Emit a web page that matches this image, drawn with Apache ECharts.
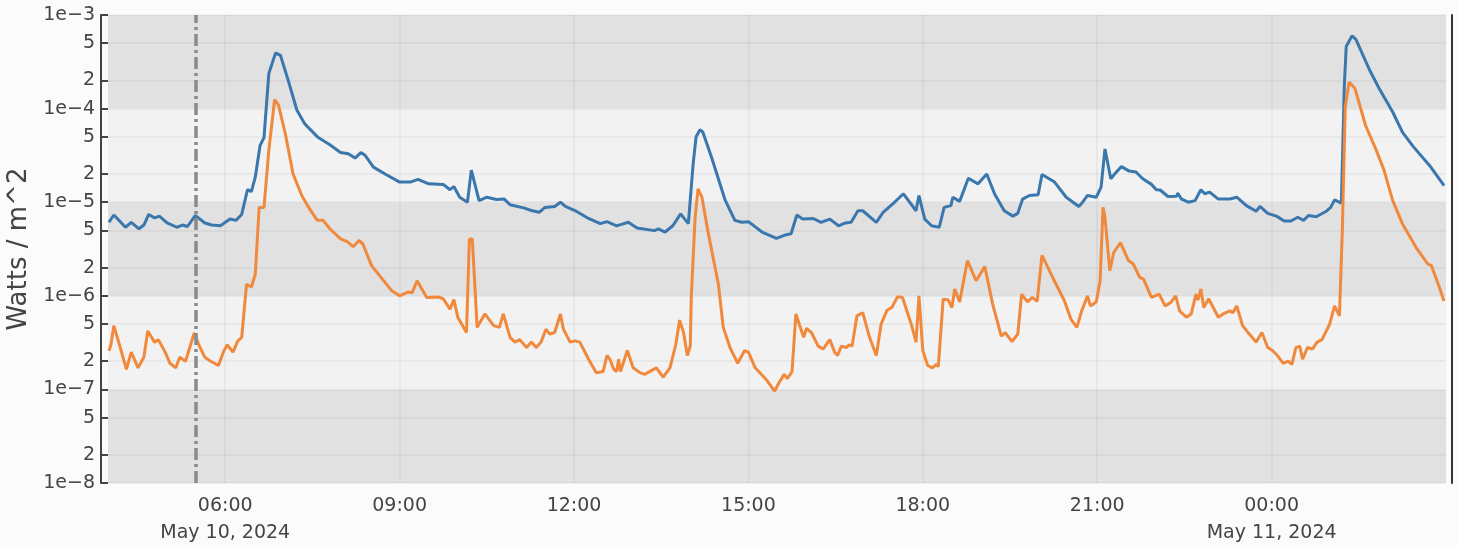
<!DOCTYPE html>
<html>
<head>
<meta charset="utf-8">
<script src="https://cdn.jsdelivr.net/npm/echarts@6/dist/echarts.min.js"></script>
<style>
  html, body { margin: 0; padding: 0; background: #fbfbfb; }
  #chart { width: 1457px; height: 547px; }
</style>
</head>
<body>
<div id="chart"></div>
<script>
// ---- data (times are HH:MM; hours before 04:00 belong to May 11, 2024) ----
const longTimes = ['04:00','04:05','04:10','04:17','04:23','04:31','04:36','04:41','04:47','04:52','05:00','05:10','05:16','05:21','05:29','05:39','05:46','05:55','06:05','06:11','06:17','06:23','06:27','06:31','06:36','06:40','06:45','06:52','06:57','07:05','07:14','07:22','07:36','07:48','07:59','08:07','08:14','08:20','08:24','08:33','08:45','09:00','09:11','09:19','09:30','09:45','09:52','09:56','10:02','10:10','10:14','10:22','10:30','10:40','10:48','10:54','11:08','11:16','11:24','11:30','11:40','11:46','11:51','12:01','12:15','12:27','12:34','12:44','12:49','12:56','13:05','13:23','13:27','13:34','13:42','13:50','13:58','14:03','14:06','14:10','14:13','14:22','14:36','14:46','14:53','15:00','15:14','15:29','15:39','15:44','15:50','15:56','16:07','16:15','16:24','16:33','16:40','16:46','16:53','16:58','17:12','17:19','17:29','17:40','17:53','17:56','18:02','18:09','18:17','18:22','18:29','18:31','18:38','18:47','18:57','19:06','19:14','19:24','19:33','19:38','19:43','19:50','19:59','20:03','20:16','20:28','20:41','20:45','20:50','20:59','21:04','21:08','21:14','21:18','21:25','21:33','21:40','21:47','21:56','22:01','22:05','22:13','22:22','22:23','22:27','22:34','22:41','22:47','22:51','22:56','23:05','23:17','23:24','23:34','23:44','23:48','23:56','00:05','00:13','00:20','00:27','00:33','00:38','00:46','00:56','01:01','01:05','01:12','01:15','01:17','01:23','01:27','01:41','01:51','02:05','02:15','02:26','02:43','02:58'];
const longFlux = [6.1e-6,7.3e-6,6.45e-6,5.4e-6,6.1e-6,5.2e-6,5.7e-6,7.4e-6,6.8e-6,7.1e-6,6.0e-6,5.4e-6,5.7e-6,5.5e-6,7.2e-6,6.0e-6,5.7e-6,5.6e-6,6.6e-6,6.4e-6,7.4e-6,1.36e-5,1.3e-5,1.85e-5,4.05e-5,4.9e-5,2.37e-4,3.94e-4,3.7e-4,2.0e-4,9.6e-5,6.9e-5,4.9e-5,4.1e-5,3.4e-5,3.3e-5,2.96e-5,3.4e-5,3.2e-5,2.37e-5,2.0e-5,1.64e-5,1.64e-5,1.75e-5,1.57e-5,1.55e-5,1.36e-5,1.47e-5,1.13e-5,1.0e-5,2.2e-5,1.04e-5,1.13e-5,1.07e-5,1.08e-5,9.4e-6,8.7e-6,8.15e-6,7.8e-6,8.8e-6,9.0e-6,1.0e-5,9.0e-6,8.15e-6,6.7e-6,5.9e-6,6.2e-6,5.6e-6,5.8e-6,6.1e-6,5.3e-6,4.97e-6,5.2e-6,4.8e-6,5.6e-6,7.5e-6,5.9e-6,2.6e-5,5.0e-5,5.95e-5,5.6e-5,3.0e-5,1.05e-5,6.4e-6,6.1e-6,6.2e-6,4.8e-6,4.1e-6,4.5e-6,4.6e-6,7.3e-6,6.6e-6,6.7e-6,6.1e-6,6.6e-6,5.6e-6,6.0e-6,6.1e-6,8.1e-6,8.1e-6,6.1e-6,7.8e-6,9.6e-6,1.23e-5,8.1e-6,1.18e-5,6.6e-6,5.6e-6,5.4e-6,8.8e-6,9.2e-6,1.13e-5,1.02e-5,1.8e-5,1.57e-5,2.0e-5,1.23e-5,8.1e-6,7.1e-6,7.6e-6,1.08e-5,1.18e-5,1.2e-5,1.98e-5,1.64e-5,1.13e-5,9.0e-6,1.0e-5,1.18e-5,1.13e-5,1.45e-5,3.7e-5,1.78e-5,2.0e-5,2.4e-5,2.15e-5,2.1e-5,1.78e-5,1.55e-5,1.36e-5,1.35e-5,1.15e-5,1.16e-5,1.25e-5,1.08e-5,1.0e-5,1.04e-5,1.36e-5,1.23e-5,1.28e-5,1.08e-5,1.08e-5,1.13e-5,9.2e-6,8.0e-6,9.0e-6,7.6e-6,7.1e-6,6.3e-6,6.3e-6,6.9e-6,6.4e-6,7.2e-6,7.0e-6,7.95e-6,8.8e-6,1.06e-5,9.8e-6,1.7e-4,4.6e-4,6.0e-4,5.5e-4,2.6e-4,1.64e-4,9.2e-5,5.6e-5,3.95e-5,2.47e-5,1.5e-5];

const shortTimes = ['04:00','04:02','04:05','04:10','04:13','04:18','04:23','04:30','04:36','04:40','04:47','04:51','04:58','05:03','05:09','05:13','05:19','05:28','05:33','05:39','05:45','05:53','05:58','06:02','06:08','06:13','06:17','06:22','06:27','06:31','06:35','06:40','06:45','06:51','06:55','07:02','07:10','07:19','07:26','07:35','07:41','07:48','07:59','08:06','08:12','08:18','08:22','08:31','08:43','08:52','09:00','09:09','09:13','09:18','09:28','09:40','09:45','09:52','09:56','10:00','10:09','10:12','10:15','10:20','10:28','10:37','10:43','10:47','10:54','10:59','11:04','11:11','11:16','11:21','11:26','11:31','11:35','11:40','11:46','11:49','11:56','12:01','12:06','12:15','12:23','12:30','12:34','12:37','12:41','12:44','12:46','12:48','12:55','13:01','13:08','13:13','13:18','13:25','13:32','13:39','13:45','13:49','13:53','13:57','14:00','14:01','14:05','14:08','14:12','14:18','14:29','14:34','14:41','14:49','14:56','15:00','15:07','15:19','15:27','15:32','15:37','15:40','15:45','15:49','15:57','16:00','16:05','16:12','16:17','16:24','16:29','16:32','16:36','16:41','16:44','16:47','16:52','16:58','17:05','17:12','17:17','17:23','17:28','17:34','17:39','17:48','17:53','17:56','18:00','18:05','18:10','18:14','18:16','18:21','18:26','18:30','18:33','18:38','18:46','18:55','19:04','19:12','19:21','19:25','19:32','19:38','19:42','19:48','19:53','19:58','20:03','20:14','20:26','20:33','20:39','20:44','20:50','20:53','20:59','21:03','21:06','21:08','21:13','21:17','21:19','21:24','21:32','21:37','21:44','21:48','21:56','21:59','22:04','22:10','22:16','22:21','22:25','22:32','22:37','22:42','22:44','22:47','22:50','22:55','23:05','23:10','23:17','23:20','23:24','23:30','23:37','23:44','23:50','23:56','00:01','00:06','00:12','00:17','00:21','00:25','00:29','00:32','00:37','00:42','00:47','00:52','01:00','01:05','01:10','01:13','01:16','01:20','01:26','01:37','01:48','01:56','02:05','02:15','02:29','02:41','02:45','02:52','02:58'];
const shortFlux = [2.58e-7,3.0e-7,4.8e-7,3.2e-7,2.5e-7,1.64e-7,2.5e-7,1.7e-7,2.2e-7,4.2e-7,3.2e-7,3.4e-7,2.5e-7,1.9e-7,1.7e-7,2.2e-7,2.0e-7,4.0e-7,2.95e-7,2.2e-7,2.0e-7,1.8e-7,2.5e-7,3.0e-7,2.5e-7,3.3e-7,3.6e-7,1.33e-6,1.24e-6,1.7e-6,8.8e-6,8.8e-6,3.6e-5,1.25e-4,1.09e-4,5.4e-5,2.0e-5,1.18e-5,8.8e-6,6.4e-6,6.4e-6,5.2e-6,4.05e-6,3.8e-6,3.35e-6,3.9e-6,3.6e-6,2.1e-6,1.47e-6,1.13e-6,1.0e-6,1.1e-6,1.08e-6,1.45e-6,9.6e-7,9.7e-7,9.3e-7,7.2e-7,9.1e-7,5.9e-7,4.05e-7,4.05e-6,4.05e-6,4.6e-7,6.4e-7,4.8e-7,4.6e-7,6.4e-7,3.6e-7,3.2e-7,3.4e-7,2.8e-7,3.2e-7,2.8e-7,3.2e-7,4.4e-7,3.9e-7,4.05e-7,6.4e-7,4.4e-7,3.2e-7,3.3e-7,3.2e-7,2.1e-7,1.51e-7,1.55e-7,2.3e-7,2.1e-7,1.64e-7,1.55e-7,2.1e-7,1.55e-7,2.6e-7,1.7e-7,1.51e-7,1.45e-7,1.55e-7,1.7e-7,1.35e-7,1.7e-7,3.0e-7,5.5e-7,4.05e-7,2.3e-7,2.9e-7,9.6e-7,6.9e-6,1.39e-5,1.13e-5,5.0e-6,1.33e-6,4.6e-7,2.8e-7,1.9e-7,2.6e-7,2.5e-7,1.7e-7,1.25e-7,9.6e-8,1.2e-7,1.45e-7,1.3e-7,1.55e-7,6.4e-7,3.6e-7,4.5e-7,4.05e-7,2.9e-7,2.7e-7,3.4e-7,2.5e-7,2.3e-7,2.9e-7,2.8e-7,3.0e-7,2.9e-7,6.1e-7,6.6e-7,3.6e-7,2.3e-7,5.0e-7,7.0e-7,7.5e-7,9.8e-7,9.6e-7,5.0e-7,3.2e-7,1.0e-6,2.6e-7,1.8e-7,1.7e-7,1.85e-7,1.75e-7,9.2e-7,9.1e-7,7.5e-7,1.18e-6,8.6e-7,2.37e-6,1.45e-6,2.05e-6,8.2e-7,3.7e-7,4.05e-7,3.25e-7,3.9e-7,1.04e-6,8.6e-7,9.6e-7,8.7e-7,2.7e-6,1.57e-6,8.9e-7,5.6e-7,4.6e-7,6.9e-7,1.0e-6,7.8e-7,8.6e-7,1.45e-6,8.8e-6,6.9e-6,1.86e-6,2.9e-6,2.8e-6,3.7e-6,2.4e-6,2.2e-6,1.57e-6,1.5e-6,9.6e-7,9.9e-7,1.04e-6,7.8e-7,8.5e-7,1.0e-6,6.9e-7,5.9e-7,6.4e-7,1.04e-6,9.0e-7,1.18e-6,7.5e-7,9.3e-7,5.9e-7,6.4e-7,6.9e-7,6.6e-7,7.8e-7,4.8e-7,3.9e-7,3.2e-7,4.05e-7,2.8e-7,2.6e-7,2.3e-7,1.9e-7,2.0e-7,1.85e-7,2.8e-7,2.9e-7,2.1e-7,2.8e-7,2.7e-7,3.2e-7,3.4e-7,5.0e-7,7.8e-7,6.1e-7,5.0e-6,1.04e-4,1.93e-4,1.64e-4,6.6e-5,3.6e-5,2.2e-5,1.04e-5,5.9e-6,3.3e-6,2.2e-6,2.1e-6,1.33e-6,8.8e-7];

const xTickTimes = ['06:00','09:00','12:00','15:00','18:00','21:00','00:00'];
const yTickValues = [1e-8,2e-8,5e-8,1e-7,2e-7,5e-7,1e-6,2e-6,5e-6,1e-5,2e-5,5e-5,1e-4,2e-4,5e-4,1e-3];
const yDecades = [1e-8,1e-7,1e-6,1e-5,1e-4,1e-3];
const markerTime = '05:30';
const xRange = [[2024, 5, 10, 3, 59], [2024, 5, 11, 3, 0]];  // year, month, day, hour, minute
const yAxisName = 'Watts / m^2';
const monthNames = ['Jan','Feb','Mar','Apr','May','Jun','Jul','Aug','Sep','Oct','Nov','Dec'];

function toTs(hhmm) {
  const p = hhmm.split(':').map(Number);
  const day = p[0] < 4 ? 11 : 10;
  return new Date(2024, 4, day, p[0], p[1]).getTime();
}
function partsTs(a) { return new Date(a[0], a[1] - 1, a[2], a[3], a[4]).getTime(); }
function pair(times, vals) { return times.map((t, i) => [toTs(t), vals[i]]); }

const xTicks = xTickTimes.map(toTs);
const firstTick = xTicks[0];
const pad = n => (n < 10 ? '0' : '') + n;

function xLabel(v) {
  const d = new Date(v);
  let s = pad(d.getHours()) + ':' + pad(d.getMinutes());
  if (Math.abs(v - firstTick) < 1000 || d.getHours() === 0) {
    s += '\n' + monthNames[d.getMonth()] + ' ' + d.getDate() + ', ' + d.getFullYear();
  }
  return s;
}
function yLabel(v) {
  let e = Math.floor(Math.log10(v) + 1e-9);
  let m = Math.round(v / Math.pow(10, e));
  if (m >= 10) { m = 1; e += 1; }
  if (m === 1) return '1e' + (e < 0 ? '\u2212' + (-e) : e);
  return String(m);
}

const FONT = 'DejaVu Sans';
const TEXT = '#444';
const GRID = 'rgba(0,0,0,0.055)';

const chart = echarts.init(document.getElementById('chart'), null, { renderer: 'canvas' });
chart.setOption({
  animation: false,
  backgroundColor: '#fbfbfb',
  textStyle: { fontFamily: FONT },
  grid: { left: 108, right: 11, top: 15, bottom: 64, containLabel: false, outerBoundsMode: 'none' },
  xAxis: {
    type: 'value',
    min: partsTs(xRange[0]),
    max: partsTs(xRange[1]),
    axisLine: { show: false },
    axisTick: { show: false, customValues: xTicks },
    axisLabel: {
      customValues: xTicks,
      fontFamily: FONT, fontSize: 19, color: TEXT, margin: 10, lineHeight: 27,
      formatter: xLabel
    },
    splitLine: { show: true, lineStyle: { color: GRID, width: 1.5 } }
  },
  yAxis: [
    {
      type: 'log', position: 'right', min: 1e-8, max: 1e-3, offset: 6,
      axisLine: { show: true, lineStyle: { color: '#333', width: 2 } },
      axisTick: { show: false, customValues: yDecades },
      axisLabel: { show: false },
      splitLine: { show: false },
      splitArea: { show: true, areaStyle: { color: ['#e1e1e1', '#f2f2f2'] } }
    },
    {
      type: 'log', position: 'left', min: 1e-8, max: 1e-3, offset: 7,
      name: yAxisName, nameLocation: 'middle', nameGap: 54, nameRotate: 90,
      nameTextStyle: { fontFamily: FONT, fontSize: 26, color: TEXT },
      axisLine: { show: true, lineStyle: { color: '#444', width: 2 } },
      axisTick: { show: true, inside: true, length: 7, lineStyle: { color: '#444', width: 2 }, customValues: yTickValues },
      axisLabel: { customValues: yTickValues, fontFamily: FONT, fontSize: 19, color: TEXT, margin: 6, formatter: yLabel },
      splitLine: { show: true, lineStyle: { color: GRID, width: 1.5 } }
    }
  ],
  series: [
    {
      name: 'long', type: 'line', yAxisIndex: 1, showSymbol: false, symbol: 'none',
      data: pair(longTimes, longFlux),
      lineStyle: { color: '#3a77ad', width: 3 },
      itemStyle: { color: '#3a77ad' },
      markLine: {
        silent: true, symbol: 'none', label: { show: false },
        lineStyle: { color: '#8a8a8a', width: 3.5, type: [12, 4, 3, 4] },
        data: [{ xAxis: toTs(markerTime) }]
      }
    },
    {
      name: 'short', type: 'line', yAxisIndex: 1, showSymbol: false, symbol: 'none',
      data: pair(shortTimes, shortFlux),
      lineStyle: { color: '#f0893b', width: 3 },
      itemStyle: { color: '#f0893b' }
    }
  ]
});
</script>
</body>
</html>
